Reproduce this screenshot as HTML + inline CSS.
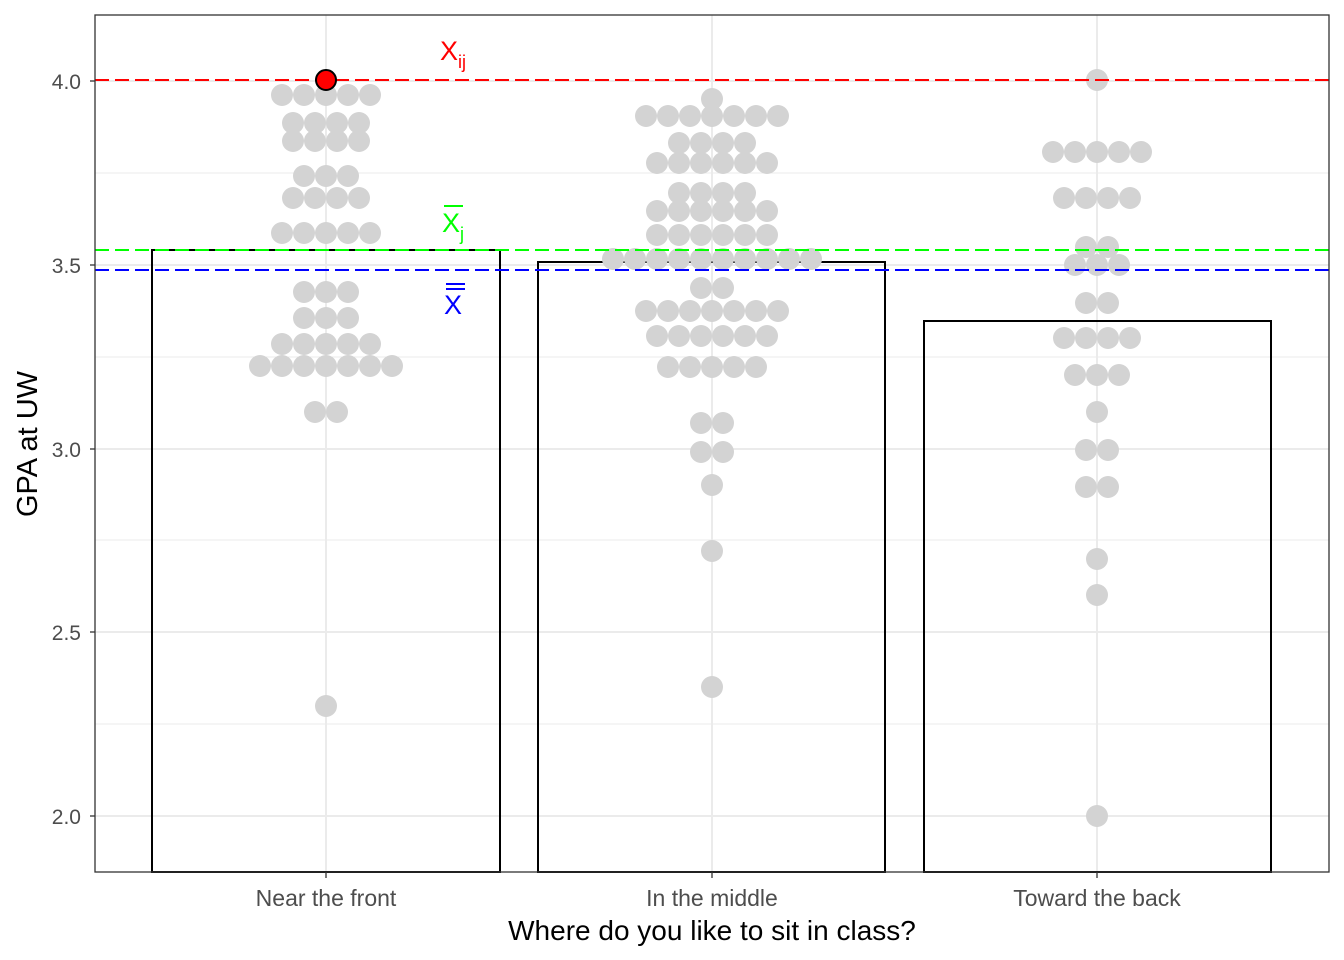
<!DOCTYPE html>
<html><head><style>body{margin:0;background:#fff}svg{display:block}text{font-family:"Liberation Sans",Arial,sans-serif}</style></head>
<body>
<svg width="1344" height="960" viewBox="0 0 1344 960" xmlns="http://www.w3.org/2000/svg">
<rect width="1344" height="960" fill="#fff"/>
<g stroke="#ebebeb" stroke-width="1">
<line x1="95" x2="1329" y1="173" y2="173"/><line x1="95" x2="1329" y1="357" y2="357"/><line x1="95" x2="1329" y1="540" y2="540"/><line x1="95" x2="1329" y1="724" y2="724"/>
</g>
<g stroke="#ebebeb" stroke-width="2">
<line x1="95" x2="1329" y1="81" y2="81"/><line x1="95" x2="1329" y1="265" y2="265"/><line x1="95" x2="1329" y1="449" y2="449"/><line x1="95" x2="1329" y1="632" y2="632"/><line x1="95" x2="1329" y1="816" y2="816"/>
<line x1="326" x2="326" y1="15" y2="872"/><line x1="712" x2="712" y1="15" y2="872"/><line x1="1097" x2="1097" y1="15" y2="872"/>
</g>
<g fill="none" stroke="#000" stroke-width="2">
<rect x="152" y="250" width="348" height="622"/>
<rect x="538" y="262" width="347" height="610"/>
<rect x="924" y="321" width="347" height="551"/>
</g>
<g fill="#d3d3d3">
<circle cx="282" cy="95" r="11"/><circle cx="304" cy="95" r="11"/><circle cx="326" cy="95" r="11"/><circle cx="348" cy="95" r="11"/><circle cx="370" cy="95" r="11"/>
<circle cx="293" cy="123" r="11"/><circle cx="315" cy="123" r="11"/><circle cx="337" cy="123" r="11"/><circle cx="359" cy="123" r="11"/>
<circle cx="293" cy="141" r="11"/><circle cx="315" cy="141" r="11"/><circle cx="337" cy="141" r="11"/><circle cx="359" cy="141" r="11"/>
<circle cx="304" cy="176" r="11"/><circle cx="326" cy="176" r="11"/><circle cx="348" cy="176" r="11"/>
<circle cx="293" cy="198" r="11"/><circle cx="315" cy="198" r="11"/><circle cx="337" cy="198" r="11"/><circle cx="359" cy="198" r="11"/>
<circle cx="282" cy="233" r="11"/><circle cx="304" cy="233" r="11"/><circle cx="326" cy="233" r="11"/><circle cx="348" cy="233" r="11"/><circle cx="370" cy="233" r="11"/>
<circle cx="304" cy="292" r="11"/><circle cx="326" cy="292" r="11"/><circle cx="348" cy="292" r="11"/>
<circle cx="304" cy="318" r="11"/><circle cx="326" cy="318" r="11"/><circle cx="348" cy="318" r="11"/>
<circle cx="282" cy="344" r="11"/><circle cx="304" cy="344" r="11"/><circle cx="326" cy="344" r="11"/><circle cx="348" cy="344" r="11"/><circle cx="370" cy="344" r="11"/>
<circle cx="260" cy="366" r="11"/><circle cx="282" cy="366" r="11"/><circle cx="304" cy="366" r="11"/><circle cx="326" cy="366" r="11"/><circle cx="348" cy="366" r="11"/><circle cx="370" cy="366" r="11"/><circle cx="392" cy="366" r="11"/>
<circle cx="315" cy="412" r="11"/><circle cx="337" cy="412" r="11"/>
<circle cx="326" cy="706" r="11"/>

<circle cx="712" cy="99" r="11"/>
<circle cx="646" cy="116" r="11"/><circle cx="668" cy="116" r="11"/><circle cx="690" cy="116" r="11"/><circle cx="712" cy="116" r="11"/><circle cx="734" cy="116" r="11"/><circle cx="756" cy="116" r="11"/><circle cx="778" cy="116" r="11"/>
<circle cx="679" cy="143" r="11"/><circle cx="701" cy="143" r="11"/><circle cx="723" cy="143" r="11"/><circle cx="745" cy="143" r="11"/>
<circle cx="657" cy="163" r="11"/><circle cx="679" cy="163" r="11"/><circle cx="701" cy="163" r="11"/><circle cx="723" cy="163" r="11"/><circle cx="745" cy="163" r="11"/><circle cx="767" cy="163" r="11"/>
<circle cx="679" cy="193" r="11"/><circle cx="701" cy="193" r="11"/><circle cx="723" cy="193" r="11"/><circle cx="745" cy="193" r="11"/>
<circle cx="657" cy="211" r="11"/><circle cx="679" cy="211" r="11"/><circle cx="701" cy="211" r="11"/><circle cx="723" cy="211" r="11"/><circle cx="745" cy="211" r="11"/><circle cx="767" cy="211" r="11"/>
<circle cx="657" cy="235" r="11"/><circle cx="679" cy="235" r="11"/><circle cx="701" cy="235" r="11"/><circle cx="723" cy="235" r="11"/><circle cx="745" cy="235" r="11"/><circle cx="767" cy="235" r="11"/>
<circle cx="613" cy="259" r="11"/><circle cx="635" cy="259" r="11"/><circle cx="657" cy="259" r="11"/><circle cx="679" cy="259" r="11"/><circle cx="701" cy="259" r="11"/><circle cx="723" cy="259" r="11"/><circle cx="745" cy="259" r="11"/><circle cx="767" cy="259" r="11"/><circle cx="789" cy="259" r="11"/><circle cx="811" cy="259" r="11"/>
<circle cx="701" cy="288" r="11"/><circle cx="723" cy="288" r="11"/>
<circle cx="646" cy="311" r="11"/><circle cx="668" cy="311" r="11"/><circle cx="690" cy="311" r="11"/><circle cx="712" cy="311" r="11"/><circle cx="734" cy="311" r="11"/><circle cx="756" cy="311" r="11"/><circle cx="778" cy="311" r="11"/>
<circle cx="657" cy="336" r="11"/><circle cx="679" cy="336" r="11"/><circle cx="701" cy="336" r="11"/><circle cx="723" cy="336" r="11"/><circle cx="745" cy="336" r="11"/><circle cx="767" cy="336" r="11"/>
<circle cx="668" cy="367" r="11"/><circle cx="690" cy="367" r="11"/><circle cx="712" cy="367" r="11"/><circle cx="734" cy="367" r="11"/><circle cx="756" cy="367" r="11"/>
<circle cx="701" cy="423" r="11"/><circle cx="723" cy="423" r="11"/>
<circle cx="701" cy="452" r="11"/><circle cx="723" cy="452" r="11"/>
<circle cx="712" cy="485" r="11"/><circle cx="712" cy="551" r="11"/><circle cx="712" cy="687" r="11"/>

<circle cx="1097" cy="80" r="11"/>
<circle cx="1053" cy="152" r="11"/><circle cx="1075" cy="152" r="11"/><circle cx="1097" cy="152" r="11"/><circle cx="1119" cy="152" r="11"/><circle cx="1141" cy="152" r="11"/>
<circle cx="1064" cy="198" r="11"/><circle cx="1086" cy="198" r="11"/><circle cx="1108" cy="198" r="11"/><circle cx="1130" cy="198" r="11"/>
<circle cx="1086" cy="247" r="11"/><circle cx="1108" cy="247" r="11"/>
<circle cx="1075" cy="265" r="11"/><circle cx="1097" cy="265" r="11"/><circle cx="1119" cy="265" r="11"/>
<circle cx="1086" cy="303" r="11"/><circle cx="1108" cy="303" r="11"/>
<circle cx="1064" cy="338" r="11"/><circle cx="1086" cy="338" r="11"/><circle cx="1108" cy="338" r="11"/><circle cx="1130" cy="338" r="11"/>
<circle cx="1075" cy="375" r="11"/><circle cx="1097" cy="375" r="11"/><circle cx="1119" cy="375" r="11"/>
<circle cx="1097" cy="412" r="11"/>
<circle cx="1086" cy="450" r="11"/><circle cx="1108" cy="450" r="11"/>
<circle cx="1086" cy="487" r="11"/><circle cx="1108" cy="487" r="11"/>
<circle cx="1097" cy="559" r="11"/><circle cx="1097" cy="595" r="11"/><circle cx="1097" cy="816" r="11"/>
</g>
<g stroke-width="2" stroke-dasharray="14,6">
<line x1="95" x2="1329" y1="80" y2="80" stroke="#ff0000"/>
<line x1="95" x2="1329" y1="250" y2="250" stroke="#00ff00"/>
<line x1="95" x2="1329" y1="270" y2="270" stroke="#0000ff"/>
</g>
<circle cx="326" cy="80" r="10" fill="#ff0000" stroke="#000" stroke-width="2"/>
<text x="440" y="60" font-size="27" fill="#ff0000">X<tspan font-size="18" dy="8">ij</tspan></text>
<line x1="444" x2="463" y1="206" y2="206" stroke="#00ff00" stroke-width="2"/>
<text x="442" y="232" font-size="27" fill="#00ff00">X<tspan font-size="18" dy="8">j</tspan></text>
<line x1="446" x2="465" y1="284" y2="284" stroke="#0000ff" stroke-width="2"/>
<line x1="446" x2="465" y1="289" y2="289" stroke="#0000ff" stroke-width="2"/>
<text x="444" y="314" font-size="27" fill="#0000ff">X</text>
<rect x="95" y="15" width="1234" height="857" fill="none" stroke="#333" stroke-width="1.3"/>
<g stroke="#333" stroke-width="1.3">
<line x1="90" x2="95" y1="81" y2="81"/><line x1="90" x2="95" y1="265" y2="265"/><line x1="90" x2="95" y1="449" y2="449"/><line x1="90" x2="95" y1="632" y2="632"/><line x1="90" x2="95" y1="816" y2="816"/>
<line x1="326" x2="326" y1="872" y2="878"/><line x1="712" x2="712" y1="872" y2="878"/><line x1="1097" x2="1097" y1="872" y2="878"/>
</g>
<g font-size="21" fill="#4d4d4d" text-anchor="end">
<text x="81" y="89">4.0</text><text x="81" y="273">3.5</text><text x="81" y="457">3.0</text><text x="81" y="640">2.5</text><text x="81" y="824">2.0</text>
</g>
<g font-size="23" fill="#4d4d4d" text-anchor="middle">
<text x="326" y="906">Near the front</text><text x="712" y="906">In the middle</text><text x="1097" y="906">Toward the back</text>
</g>
<text x="712" y="940" font-size="28" text-anchor="middle" fill="#000">Where do you like to sit in class?</text>
<text transform="translate(37,444) rotate(-90)" font-size="29" text-anchor="middle" fill="#000">GPA at UW</text>
</svg>
</body></html>
